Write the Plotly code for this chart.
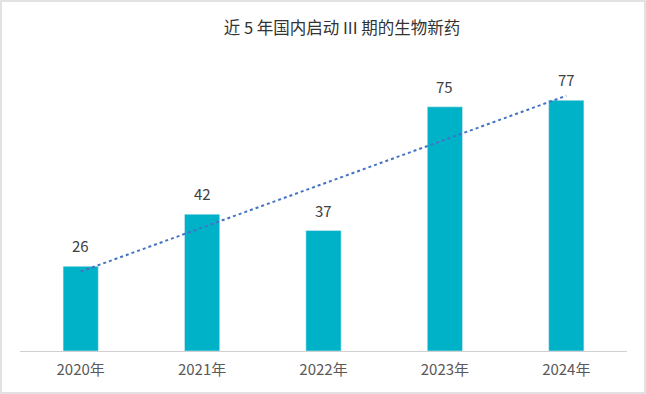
import numpy as np
import plotly.graph_objects as go

years = ["2020年", "2021年", "2022年", "2023年", "2024年"]
values = [26, 42, 37, 75, 77]
title_text = "近 5 年国内启动 III 期的生物新药"

FONT = "Noto Sans CJK SC"
W, H = 646, 394
ML, MR, MT, MB = 20, 19, 58, 43
pw = W - ML - MR
ph = H - MT - MB

idx = np.arange(len(values))
slope, intercept = np.polyfit(idx, values, 1)
trend = slope * idx + intercept

fig = go.Figure()
fig.add_trace(go.Bar(x=years, y=values, marker_color="#00B2C8", width=0.29,
                     hoverinfo="skip", showlegend=False))
fig.add_trace(go.Scatter(x=years, y=trend, mode="lines",
                         line=dict(color="#4472C4", width=2, dash="dot"),
                         hoverinfo="skip", showlegend=False))

for yr, v in zip(years, values):
    fig.add_annotation(x=yr, y=v, text=str(v), showarrow=False, yanchor="bottom",
                       yshift=8, font=dict(family=FONT, size=15, color="#404040"))

# outer border
fig.add_shape(type="rect", xref="paper", yref="paper",
              x0=(1 - ML) / pw, x1=(W - 1 - ML) / pw,
              y0=(MT + ph - (H - 1)) / ph, y1=(MT + ph - 1) / ph,
              line=dict(color="#D9D9D9", width=1.5), layer="below")

fig.update_layout(
    width=W, height=H,
    margin=dict(l=ML, r=MR, t=MT, b=MB),
    paper_bgcolor="white", plot_bgcolor="white",
    title=dict(text=title_text, x=342 / W, xanchor="center", y=1 - 28 / H, yanchor="middle",
               font=dict(family=FONT, size=16.5, color="#333333")),
    xaxis=dict(showline=True, linecolor="#D0D0D0", linewidth=1, ticks="",
               ticklabelstandoff=5,
               tickfont=dict(family=FONT, size=15, color="#595959"),
               showgrid=False, fixedrange=True),
    yaxis=dict(range=[0, 90], visible=False, showgrid=False, fixedrange=True),
    bargap=0.71,
)

fig.write_html("out.html", config={"displayModeBar": False},
               post_script="document.body.style.margin='0';document.body.style.overflow='hidden';")
